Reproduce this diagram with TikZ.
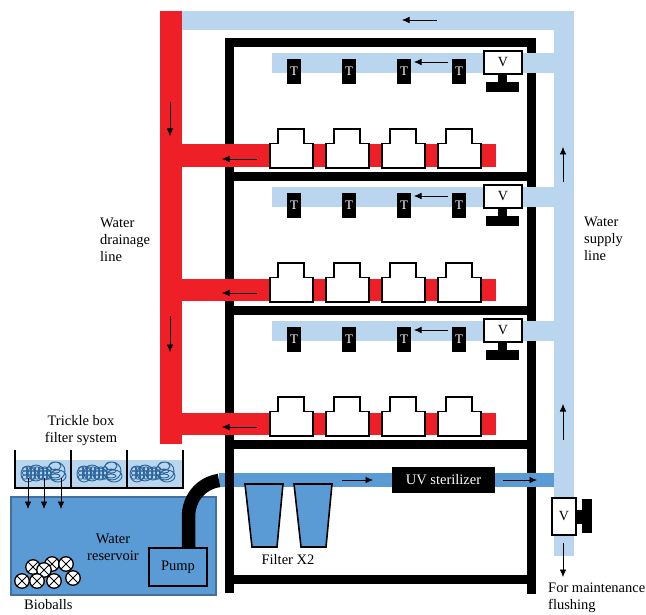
\documentclass[tikz,border=0pt]{standalone}
\usepackage{fontspec}
\setmainfont{Liberation Serif}
\usetikzlibrary{arrows.meta,positioning,calc}

\definecolor{drainred}{HTML}{EE1F27}
\definecolor{supplyblue}{HTML}{BAD6EF}
\definecolor{tankblue}{HTML}{5B9BD5}
\definecolor{tankedge}{HTML}{41719C}
\definecolor{mediablue}{HTML}{2A6499}

\tikzset{
    flow/.style={-{Latex[length=7.5pt,width=6.5pt]}, line width=0.6pt, black},
    labeltext/.style={font=\fontsize{14.5}{17}\selectfont, align=left, inner sep=0pt},
    frame/.style={fill=black, draw=none},
    tempbox/.style={fill=black, text=white, minimum width=14pt, minimum height=25pt, inner sep=0pt, font=\fontsize{13}{13}\selectfont},
    valvebox/.style={fill=white, draw=black, line width=2pt, inner sep=0pt, font=\fontsize{14}{14}\selectfont},
    tankshape/.style={fill=white, draw=black, line width=1.8pt, line join=miter},
    ball/.style={circle, fill=white, draw=black, line width=1.3pt, minimum size=14.5pt, inner sep=0pt, path picture={
        \draw[line width=1pt] (path picture bounding box.south west) -- (path picture bounding box.north east)
        (path picture bounding box.north west) -- (path picture bounding box.south east);}},
    media/.pic={
        \draw[mediablue, line width=0.9pt]
            (-16,1) ellipse (7 and 8) (-8,0) ellipse (8 and 8) (0,1) ellipse (7 and 6)
            (12,-2) ellipse (9 and 9) (14,3) ellipse (8 and 6) (11,-7) ellipse (6 and 4)
            (11,-2) ellipse (5 and 2) (11,3) ellipse (5 and 2);
        \foreach \mx in {-19,-15,-11,-7,-3,1,5} {
            \foreach \my in {-4,0,4} {
                \draw[mediablue, line width=0.8pt] (\mx,\my) ellipse (2.6 and 2.2);
            }
        }
    }
}

\begin{document}
\begin{tikzpicture}[x=1pt,y=-1pt]
    \useasboundingbox (0,0) rectangle (646,615);

    % Pipe to the sterilizer
    \fill[tankblue] (219,473) rectangle (554,487);

    % Rack
    \foreach \shelfy in {38,172,306,440,575} {
        \fill[frame] (225,\shelfy) rectangle (536,\shelfy+9);
    }
    \fill[frame] (225,38) rectangle (234,593);
    \fill[frame] (527,38) rectangle (536,594);
    \fill[tankblue] (527,473) rectangle (554,487);

    % Supply line
    \fill[supplyblue] (182,11) rectangle (574,30);
    \fill[supplyblue] (554,11) rectangle (574,556);

    % Drainage line
    \fill[drainred] (160,11) rectangle (182,444);

    % Shelf rows
    \foreach \rowy [count=\rownum] in {0,134,268} {
        \fill[supplyblue] (272,53+\rowy) rectangle (554,73+\rowy);
        \fill[drainred] (182,144.5+\rowy) rectangle (496,167+\rowy);
        \foreach \tx [count=\tnum] in {294,349,404,459} {
            \node[tempbox] (temp\rownum\tnum) at (\tx,71.5+\rowy) {T};
        }
        \foreach \tankx in {270,326,382,438} {
            \draw[tankshape] (\tankx,168+\rowy) -- (\tankx,143.5+\rowy) -- (\tankx+8,143.5+\rowy)
                -- (\tankx+8,129+\rowy) -- (\tankx+34,129+\rowy) -- (\tankx+34,143.5+\rowy)
                -- (\tankx+43,143.5+\rowy) -- (\tankx+43,168+\rowy) -- cycle;
        }
        \fill[black] (498,75+\rowy) rectangle (507,83+\rowy);
        \fill[black] (486,82+\rowy) rectangle (519,92+\rowy);
        \node[valvebox, minimum width=38pt, minimum height=23pt] (valve\rownum) at (503,62.5+\rowy) {V};
        \draw[flow] (448,62+\rowy) -- (414,62+\rowy);
        \draw[flow] (257,159+\rowy) -- (222,159+\rowy);
    }

    % Flow arrows
    \draw[flow] (437,20) -- (402,20);
    \draw[flow] (170,102) -- (170,136);
    \draw[flow] (170,316) -- (170,352);
    \draw[flow] (563,182) -- (563,147);
    \draw[flow] (563,440) -- (563,404);

    % Filters
    \foreach \fx in {245,294} {
        \draw[fill=tankblue, draw=black, line width=1.6pt] (\fx,484) -- (\fx+38,484) -- (\fx+32,547) -- (\fx+7,547) -- cycle;
    }

    % Sterilizer
    \node[fill=black, text=white, minimum width=103pt, minimum height=26pt, inner sep=0pt, font=\fontsize{14.5}{14.5}\selectfont] (uvbox) at (443.5,480) {UV sterilizer};
    \draw[flow] (342,480) -- (373,480);
    \draw[flow] (503,480) -- (537,480);

    % Flush valve
    \fill[black] (576,510) rectangle (583,524);
    \fill[black] (582,499) rectangle (592,533);
    \node[valvebox, minimum width=24pt, minimum height=37pt] (flushvalve) at (564,516.5) {V};
    \draw[flow] (563,543) -- (563,577);

    % Reservoir
    \draw[fill=tankblue, draw=tankedge, line width=1.2pt] (11,497) rectangle (216,595);
    \foreach \bx/\by [count=\bnum] in {33/567,52/564,66/564,44/570,22/581,37/581,54/581,73/578} {
        \node[ball] (ball\bnum) at (\bx,\by) {};
    }
    \draw[line width=13.5pt, black] (188.5,548) -- (188.5,517) .. controls (188.5,497) and (202,483) .. (219,480.5);
    \node[fill=tankblue, draw=black, line width=2pt, minimum width=58pt, minimum height=38pt, inner sep=0pt, font=\fontsize{14.5}{14.5}\selectfont] (pump) at (178,567) {Pump};

    % Trickle box
    \fill[supplyblue] (15,460) rectangle (183,487);
    \foreach \mx in {44,100,153} {
        \pic at (\mx,473) {media};
    }
    \draw[black, line width=1.4pt] (15,450) -- (15,488) -- (183,488) -- (183,450);
    \draw[black, line width=1.4pt] (71,450) -- (71,488);
    \draw[black, line width=1.4pt] (127,450) -- (127,488);
    \foreach \ax in {28,44,61} {
        \draw[flow] (\ax,478) -- (\ax,509);
    }

    % Labels
    \node[labeltext, align=center] (tricklelabel) at (81,430.5) {Trickle box\\filter system};
    \node[labeltext, align=center] (reservoirlabel) at (113,547) {Water\\reservoir};
    \node[labeltext, anchor=west] (ballslabel) at (24,604.5) {Bioballs};
    \node[labeltext] (filterlabel) at (288,560) {Filter X2};
    \node[labeltext, anchor=west] (drainlabel) at (100,240) {Water\\drainage\\line};
    \node[labeltext, anchor=west] (supplylabel) at (584,239) {Water\\supply\\line};
    \node[labeltext, anchor=west] (flushlabel) at (548,598) {For maintenance\\flushing};
\end{tikzpicture}
\end{document}
